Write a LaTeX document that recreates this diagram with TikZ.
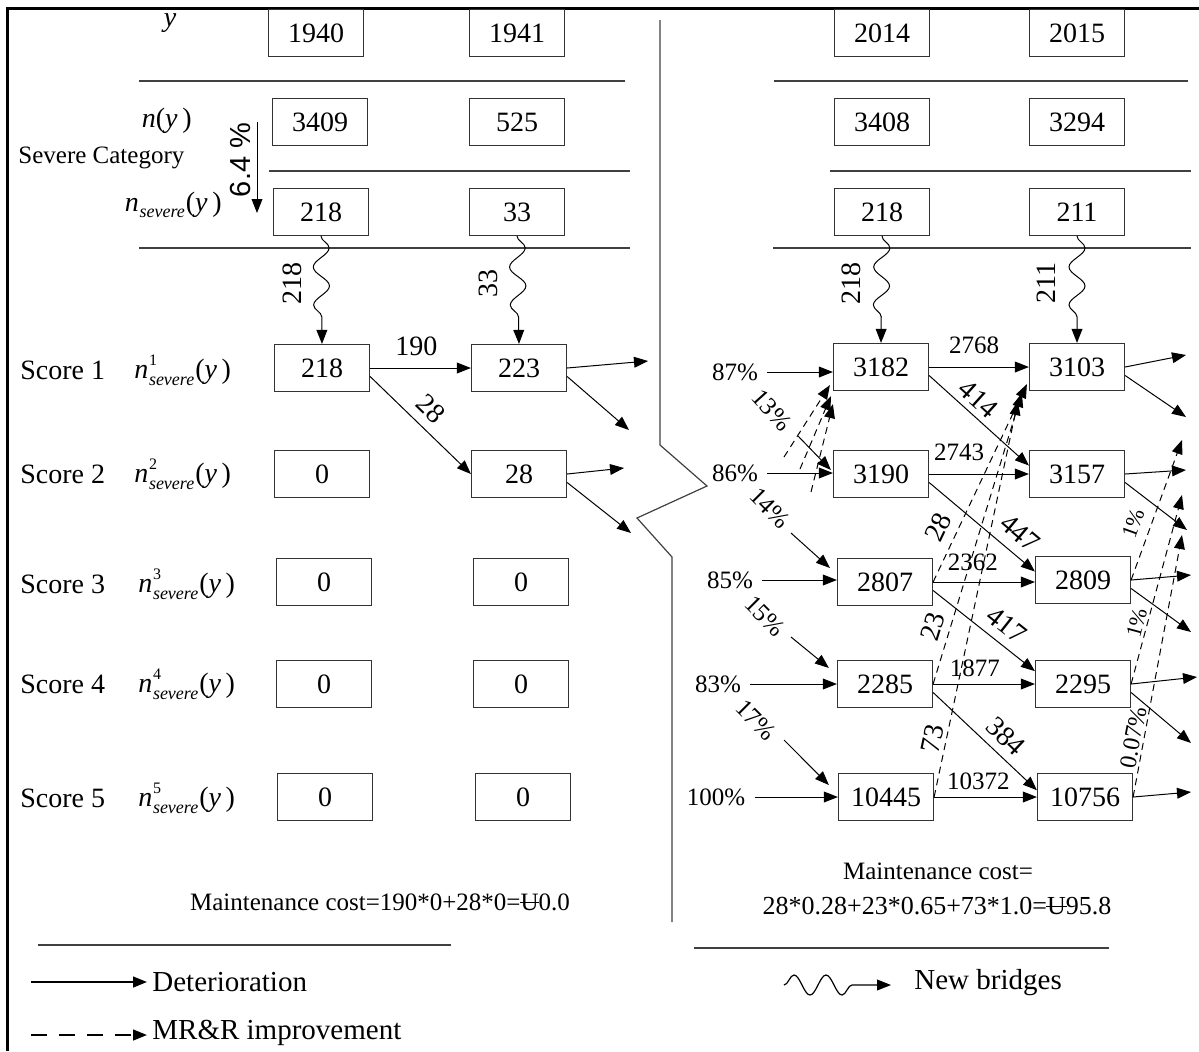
\documentclass[tikz,border=0pt]{standalone}
\usepackage{fontspec}
\setmainfont{Liberation Serif}
\newfontfamily\arialfont{Liberation Sans}
\usetikzlibrary{arrows.meta,decorations.pathmorphing,calc}
\newcommand\fsz[1]{\fontsize{#1}{#1}\selectfont}
\newcommand\nsupx[1]{\textit{n}\kern0.3pt\rlap{\raisebox{1.05ex}{\fsz{8}#1}}\raisebox{-0.5ex}{\fsz{9}\textit{severe}}\kern0.5pt(\textit{y}\,)}
\newcommand\nsevx{\textit{n}\kern0.3pt\raisebox{-0.5ex}{\fsz{9}\textit{severe}}\kern0.5pt(\textit{y}\,)}
\newcommand\yenU{\ooalign{U\cr\hidewidth\rule[0.28em]{0.78em}{0.05em}\hidewidth\cr}}
\begin{document}
\begin{tikzpicture}[x=0.5pt,y=-0.5pt,
 box/.style={draw=black!80, line width=0.6pt, minimum width=47.5pt, minimum height=23.5pt, inner sep=0pt, font=\fsz{14}},
 tipx/.style={-{Triangle[length=7pt,width=5.4pt]}},
 det/.style={tipx, line width=0.5pt},
 imp/.style={det, dash pattern=on 3.5pt off 2.5pt},
 newb/.style={det, decorate, decoration={snake, amplitude=4pt, segment length=19pt, post length=13pt}},
 big/.style={font=\fsz{14}, inner sep=1pt},
 mid/.style={font=\fsz{12.5}, inner sep=1pt},
 small/.style={font=\fsz{11}, inner sep=1pt},
 sep/.style={line width=0.6pt, draw=black!75},
]
\useasboundingbox (0,0) rectangle (1199,1051);
% frame and divider
\draw[line width=1.5pt] (7,1051) -- (7,8) -- (1199,8);
\draw[line width=0.6pt, black!75] (660,20) -- (660,445) -- (707,486) -- (637,518) -- (672,557) -- (672,922);
% separators
\draw[sep] (139,81) -- (625,81);
\draw[sep] (269,171) -- (630,171);
\draw[sep] (139,248) -- (630,248);
\draw[sep] (774,81) -- (1188,81);
\draw[sep] (830,171) -- (1191,171);
\draw[sep] (773,248) -- (1191,248);
\draw[sep] (38,945) -- (451,945);
\draw[sep] (694,948) -- (1109,948);

% top boxes
\node[box] (y40) at (316,33) {1940};
\node[box] (y41) at (517,33) {1941};
\node[box] (y14) at (882,33) {2014};
\node[box] (y15) at (1077,33) {2015};
\node[box] (n40) at (320,122) {3409};
\node[box] (n41) at (517,122) {525};
\node[box] (n14) at (882,122) {3408};
\node[box] (n15) at (1077,122) {3294};
\node[box] (s40) at (321,212) {218};
\node[box] (s41) at (517,212) {33};
\node[box] (s14) at (882,212) {218};
\node[box] (s15) at (1077,212) {211};

% left score boxes
\node[box] (a1) at (322,368) {218};
\node[box] (b1) at (519,368) {223};
\node[box] (a2) at (322,474) {0};
\node[box] (b2) at (519,474) {28};
\node[box] (a3) at (324,582) {0};
\node[box] (b3) at (521,582) {0};
\node[box] (a4) at (324,684) {0};
\node[box] (b4) at (521,684) {0};
\node[box] (a5) at (325,797) {0};
\node[box] (b5) at (523,797) {0};

% right score boxes
\node[box] (c1) at (881,367) {3182};
\node[box] (d1) at (1077,367) {3103};
\node[box] (c2) at (881,474) {3190};
\node[box] (d2) at (1077,474) {3157};
\node[box] (c3) at (885,582) {2807};
\node[box] (d3) at (1083,580) {2809};
\node[box] (c4) at (885,684) {2285};
\node[box] (d4) at (1083,684) {2295};
\node[box] (c5) at (886,797) {10445};
\node[box] (d5) at (1085,797) {10756};

% left labels
\node[big] (ly) at (170,23) {\textit{y}};
\node[big, anchor=east] (lny) at (194,121) {\textit{n}(\textit{y}\,)};
\node[font=\fsz{12.5}, anchor=west, inner sep=0pt] (lsev) at (18,158) {Severe Category};
\node[big, anchor=east] (lns) at (224,205) {\nsevx};
\node[font=\arialfont\fsz{14.5}, rotate=90, inner sep=0pt] (l64) at (241,160) {6.4 \%};
\coordinate (a64s) at (257,122);
\coordinate (a64e) at (257,213);
\draw[det] (a64s) -- (a64e);

\node[big, anchor=west] (sc1) at (18,370) {Score 1};
\node[big, anchor=west] (sc2) at (18,474) {Score 2};
\node[big, anchor=west] (sc3) at (18,584) {Score 3};
\node[big, anchor=west] (sc4) at (18,684) {Score 4};
\node[big, anchor=west] (sc5) at (18,798) {Score 5};
\node[big, anchor=west] (ns1) at (132,370) {\nsupx{1}};
\node[big, anchor=west] (ns2) at (132,474) {\nsupx{2}};
\node[big, anchor=west] (ns3) at (136,584) {\nsupx{3}};
\node[big, anchor=west] (ns4) at (136,684) {\nsupx{4}};
\node[big, anchor=west] (ns5) at (136,798) {\nsupx{5}};

% new bridges (wavy)
\draw[newb] (s40.south) -- (a1.north);
\draw[newb] (s41.south) -- (b1.north);
\draw[newb] (s14.south) -- (c1.north);
\draw[newb] (s15.south) -- (d1.north);
\node[big, rotate=90] (w1) at (292,283) {218};
\node[big, rotate=90] (w2) at (488,283) {33};
\node[big, rotate=90] (w3) at (851,283) {218};
\node[big, rotate=90] (w4) at (1046,283) {211};

% left deterioration
\draw[det] (a1.east) -- node[pos=0.46, above=5pt, big]{190} (b1.west);
\draw[det] (a1.-10) -- node[pos=0.47, sloped, above=3.5pt, big]{28} (b2.west);
\coordinate (ob1r) at (648,361);
\coordinate (ob1d) at (629,430);
\coordinate (ob2r) at (624,468);
\coordinate (ob2d) at (631,533);
\draw[det] (b1.east) -- (ob1r);
\draw[det] (b1.-10) -- (ob1d);
\draw[det] (b2.east) -- (ob2r);
\draw[det] (b2.-10) -- (ob2d);

% right incoming
\node[mid] (p87) at (735,372) {87\%};
\node[mid] (p86) at (735,473) {86\%};
\node[mid] (p85) at (730,580) {85\%};
\node[mid] (p83) at (718,684) {83\%};
\node[mid] (p100) at (716,797) {100\%};
\draw[det] ($(p87.east)+(7,0)$) -- (p87 -| c1.west);
\draw[det] ($(p86.east)+(7,0)$) -- (p86 -| c2.west);
\draw[det] ($(p85.east)+(7,0)$) -- (p85 -| c3.west);
\draw[det] ($(p83.east)+(7,0)$) -- (p83 -| c4.west);
\draw[det] ($(p100.east)+(7,0)$) -- (p100 -| c5.west);
\node[mid, rotate=-48] (p13) at (772,410) {13\%};
\node[mid, rotate=-45] (p14) at (770,508) {14\%};
\node[mid, rotate=-45] (p15) at (765,616) {15\%};
\node[mid, rotate=-45] (p17) at (756,720) {17\%};
\coordinate (q13) at (798,436);
\coordinate (q14) at (791,533);
\coordinate (q15) at (791,637);
\coordinate (q17) at (784,740);
\draw[det] (q13) -- ($(c2.west)+(-2,-4)$);
\draw[det] (q14) -- ($(c3.west)+(-7,-14)$);
\draw[det] (q15) -- ($(c4.west)+(-8,-16)$);
\draw[det] (q17) -- ($(c5.west)+(-9,-12)$);

% improvements into 3182
\coordinate (m1) at (784,457);
\coordinate (m2) at (800,469);
\coordinate (m3) at (811,492);
\draw[imp] (m1) -- ($(c1.south west)+(-3,-6)$);
\draw[imp] (m2) -- ($(c1.south west)+(-2,5)$);
\draw[imp] (m3) -- ($(c1.south west)+(0,13)$);

% right deterioration
\draw[det] (c1.east) -- node[pos=0.45, above=5.6pt, mid]{2768} (c1.east -| d1.west);
\draw[det] (c2.east) -- node[pos=0.3, above=5.6pt, mid]{2743} (c2.east -| d2.west);
\draw[det] (c3.east) -- node[pos=0.39, above=4.6pt, mid]{2362} (c3.east -| d3.west);
\draw[det] (c4.east) -- node[pos=0.41, above=2.6pt, mid]{1877} (c4.east -| d4.west);
\draw[det] (c5.east) -- node[pos=0.43, above=2.2pt, mid]{10372} (c5.east -| d5.west);
\draw[det] (c1.-10) -- node[pos=0.39, sloped, above=2pt, big]{414} (d2.170);
\draw[det] (c2.-10) -- node[pos=0.74, sloped, above=4pt, big]{447} (d3.170);
\draw[det] (c3.-10) -- node[pos=0.61, sloped, above=3.5pt, big]{417} (d4.165);
\draw[det] (c4.-10) -- node[pos=0.58, sloped, above=3pt, big]{384} (d5.172);

% improvements into 3103
\draw[imp] (c3.east) -- node[pos=0.236, sloped, above=3.6pt, big]{28} ($(d1.south west)+(-2,-7)$);
\draw[imp] (c4.east) -- node[pos=0.18, sloped, above=2.5pt, big]{23} ($(d1.south west)+(-7,2)$);
\draw[imp] (c5.east) -- node[pos=0.14, sloped, above=1pt, big]{73} ($(d1.south west)+(-11,10)$);

% right outgoing
\coordinate (o1r) at (1186,355);
\coordinate (o1d) at (1186,417);
\coordinate (o2r) at (1186,470);
\coordinate (o2d) at (1187,530);
\coordinate (o3r) at (1191,575);
\coordinate (o3d) at (1191,632);
\coordinate (o4r) at (1197,677);
\coordinate (o4d) at (1191,743);
\coordinate (o5r) at (1191,792);
\draw[det] (d1.east) -- (o1r);
\draw[det] (d1.-10) -- (o1d);
\draw[det] (d2.east) -- (o2r);
\draw[det] (d2.-10) -- (o2d);
\draw[det] (d3.east) -- (o3r);
\draw[det] (d3.-10) -- (o3d);
\draw[det] (d4.east) -- (o4r);
\draw[det] (d4.-10) -- (o4d);
\draw[det] (d5.east) -- (o5r);
\coordinate (u3) at (1182,440);
\coordinate (u4) at (1182,495);
\coordinate (u5) at (1182,535);
\draw[imp] (d3.east) -- node[pos=0.36, sloped, above=3.7pt, small]{1\%} (u3);
\draw[imp] (d4.east) -- node[pos=0.31, sloped, above=0.3pt, small]{1\%} (u4);
\draw[imp] (d5.east) -- node[pos=0.22, sloped, above=0pt, font=\fsz{12}, inner sep=1pt]{0.07\%} (u5);

% maintenance cost
\node[font=\fsz{12.5}] (mc1) at (380,902) {Maintenance cost=190*0+28*0=\yenU0.0};
\node[font=\fsz{12.5}] (mc2a) at (938,871) {Maintenance cost=};
\node[font=\fsz{13}] (mc2b) at (937,906) {28*0.28+23*0.65+73*1.0=\yenU95.8};

% legend
\coordinate (lg1s) at (31,982);
\coordinate (lg1e) at (147,982);
\coordinate (lg2s) at (31,1035);
\coordinate (lg2e) at (147,1035);
\coordinate (lg3s) at (784,985);
\coordinate (lg3e) at (891,985);
\draw[tipx, line width=1pt] (lg1s) -- (lg1e);
\draw[tipx, line width=1pt, dash pattern=on 8pt off 6pt] (lg2s) -- (lg2e);
\draw[tipx, line width=0.6pt, decorate, decoration={snake, amplitude=5pt, segment length=16pt, post length=13pt}] (lg3s) -- (lg3e);
\node[font=\fsz{14.5}, anchor=west, inner sep=0pt] (lg1) at (152,982) {Deterioration};
\node[font=\fsz{14.5}, anchor=west, inner sep=0pt] (lg2) at (152,1033) {MR\&R improvement};
\node[font=\fsz{14.5}, anchor=west, inner sep=0pt] (lg3) at (914,983) {New bridges};
\end{tikzpicture}
\end{document}
